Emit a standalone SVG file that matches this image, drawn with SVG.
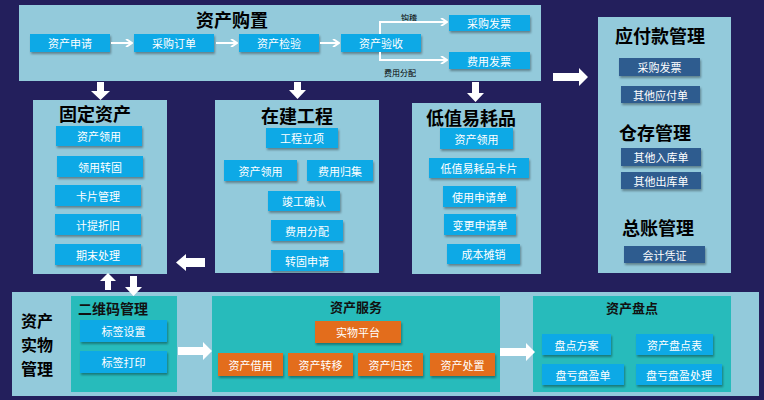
<svg xmlns="http://www.w3.org/2000/svg" width="764" height="400" viewBox="0 0 764 400">
<defs>
<style>
text{font-family:"Noto Sans CJK SC","Noto Sans",sans-serif;text-anchor:middle;dominant-baseline:central}
.panel{fill:#93cadb}
.sub{fill:#27bbbb}
.btn{fill:#0ba9e6;filter:url(#sh)}
.dk{fill:#2f5b8f;filter:url(#sh)}
.or{fill:#e36d1b;filter:url(#sh)}
.bt{fill:#fff;font-size:11px}
.t1{fill:#000;font-size:18px;font-weight:bold}
.t2{fill:#111;font-size:13px;font-weight:bold}
.sm{fill:#000;font-size:8px}
.fat{fill:#fff}
.ln{fill:none;stroke:#fff;stroke-width:2}
</style>
<filter id="sh" x="-10%" y="-10%" width="130%" height="150%">
<feDropShadow dx="1" dy="2" stdDeviation="1" flood-color="#000" flood-opacity="0.35"/>
</filter>
<marker id="ah" markerWidth="8" markerHeight="8" refX="7" refY="4" orient="auto" markerUnits="userSpaceOnUse">
<path d="M1,0 L7,4 L1,8" fill="none" stroke="#fff" stroke-width="2"/>
</marker>
</defs>
<rect width="764" height="400" fill="#231f5c"/>

<g id="purchase">
<rect class="panel" x="19" y="5" width="522" height="76"/>
<text class="t1" x="232" y="19">资产购置</text>
<rect class="btn" x="30" y="34" width="80" height="18"/><text class="bt" x="70" y="43">资产申请</text>
<rect class="btn" x="134" y="34" width="80" height="18"/><text class="bt" x="174" y="43">采购订单</text>
<rect class="btn" x="239" y="34" width="80" height="18"/><text class="bt" x="279" y="43">资产检验</text>
<rect class="btn" x="341" y="34" width="80" height="18"/><text class="bt" x="381" y="43">资产验收</text>
<rect class="btn" x="449" y="15" width="81" height="16"/><text class="bt" x="489" y="23">采购发票</text>
<rect class="btn" x="449" y="52" width="81" height="17"/><text class="bt" x="489" y="60.500">费用发票</text>
<text class="sm" x="409" y="17">钩稽</text>
<text class="sm" x="400" y="72">费用分配</text>
</g>

<g id="payable">
<rect class="panel" x="598" y="17" width="133" height="256"/>
<text class="t1" x="660" y="35">应付款管理</text>
<rect class="dk" x="619" y="58" width="81" height="18"/><text class="bt" x="659.500" y="67">采购发票</text>
<rect class="dk" x="621" y="86" width="79" height="17"/><text class="bt" x="660.500" y="94.500">其他应付单</text>
<text class="t1" x="655" y="132">仓存管理</text>
<rect class="dk" x="621" y="148" width="80" height="18"/><text class="bt" x="661" y="157">其他入库单</text>
<rect class="dk" x="621" y="172" width="80" height="17"/><text class="bt" x="661" y="180.500">其他出库单</text>
<text class="t1" x="658" y="227">总账管理</text>
<rect class="dk" x="624" y="246" width="81" height="17"/><text class="bt" x="664.500" y="254.500">会计凭证</text>
</g>

<g id="fixed">
<rect class="panel" x="33" y="100" width="134" height="174"/>
<text class="t1" x="95" y="113">固定资产</text>
<rect class="btn" x="56" y="126" width="86" height="20"/><text class="bt" x="99" y="136">资产领用</text>
<rect class="btn" x="57" y="156" width="86" height="21"/><text class="bt" x="100" y="166.500">领用转固</text>
<rect class="btn" x="55" y="185" width="86" height="21"/><text class="bt" x="98" y="195.500">卡片管理</text>
<rect class="btn" x="55" y="214" width="86" height="21"/><text class="bt" x="98" y="224.500">计提折旧</text>
<rect class="btn" x="55" y="244" width="86" height="21"/><text class="bt" x="98" y="254.500">期末处理</text>
</g>

<g id="construction">
<rect class="panel" x="215" y="100" width="164" height="173"/>
<text class="t1" x="297" y="115">在建工程</text>
<rect class="btn" x="266" y="128" width="72" height="20"/><text class="bt" x="302" y="138">工程立项</text>
<rect class="btn" x="224" y="160" width="73" height="21"/><text class="bt" x="260.500" y="170.500">资产领用</text>
<rect class="btn" x="307" y="160" width="66" height="21"/><text class="bt" x="340" y="170.500">费用归集</text>
<rect class="btn" x="268" y="191" width="72" height="20"/><text class="bt" x="304" y="201">竣工确认</text>
<rect class="btn" x="271" y="220" width="72" height="21"/><text class="bt" x="307" y="230.500">费用分配</text>
<rect class="btn" x="271" y="250" width="72" height="21"/><text class="bt" x="307" y="260.500">转固申请</text>
</g>

<g id="lowvalue">
<rect class="panel" x="412" y="103" width="129" height="171"/>
<text class="t1" x="471" y="117">低值易耗品</text>
<rect class="btn" x="440" y="128" width="73" height="21"/><text class="bt" x="476.500" y="138.500">资产领用</text>
<rect class="btn" x="429" y="158" width="100" height="20"/><text class="bt" x="479" y="168">低值易耗品卡片</text>
<rect class="btn" x="443" y="186" width="73" height="21"/><text class="bt" x="479.500" y="196.500">使用申请单</text>
<rect class="btn" x="444" y="214" width="72" height="21"/><text class="bt" x="480" y="224.500">变更申请单</text>
<rect class="btn" x="447" y="244" width="73" height="20"/><text class="bt" x="483.500" y="254">成本摊销</text>
</g>

<g id="physical">
<rect class="panel" x="12" y="292" width="747" height="104"/>
<text class="t1" x="37" y="320" style="font-size:16px">资产</text>
<text class="t1" x="37" y="344" style="font-size:16px">实物</text>
<text class="t1" x="37" y="368" style="font-size:16px">管理</text>
</g>

<g id="qrcode">
<rect class="sub" x="71" y="296" width="106" height="96"/>
<text class="t2" x="113" y="308" style="font-size:14px">二维码管理</text>
<rect class="btn" x="80" y="320" width="87" height="22"/><text class="bt" x="123.500" y="331">标签设置</text>
<rect class="btn" x="80" y="351" width="87" height="22"/><text class="bt" x="123.500" y="362">标签打印</text>
</g>

<g id="service">
<rect class="sub" x="212" y="296" width="288" height="96"/>
<text class="t2" x="356" y="306">资产服务</text>
<rect class="or" x="315" y="321" width="86" height="22"/><text class="bt" x="358" y="332">实物平台</text>
<rect class="or" x="218" y="353" width="65" height="23"/><text class="bt" x="250.500" y="364.500">资产借用</text>
<rect class="or" x="288" y="353" width="65" height="23"/><text class="bt" x="320.500" y="364.500">资产转移</text>
<rect class="or" x="358" y="353" width="65" height="23"/><text class="bt" x="390.500" y="364.500">资产归还</text>
<rect class="or" x="430" y="353" width="65" height="23"/><text class="bt" x="462.500" y="364.500">资产处置</text>
</g>

<g id="inventory">
<rect class="sub" x="533" y="296" width="198" height="96"/>
<text class="t2" x="632" y="307">资产盘点</text>
<rect class="btn" x="542" y="334" width="69" height="21"/><text class="bt" x="576.500" y="344.500">盘点方案</text>
<rect class="btn" x="636" y="334" width="77" height="21"/><text class="bt" x="674.500" y="344.500">资产盘点表</text>
<rect class="btn" x="542" y="364" width="82" height="21"/><text class="bt" x="583" y="374.500">盘亏盘盈单</text>
<rect class="btn" x="636" y="364" width="86" height="21"/><text class="bt" x="679" y="374.500">盘亏盘盈处理</text>
</g>

<g id="connectors">
<path class="ln" d="M111,43 H132" marker-end="url(#ah)"/>
<path class="ln" d="M216,43 H237" marker-end="url(#ah)"/>
<path class="ln" d="M320,43 H339" marker-end="url(#ah)"/>
<path class="ln" d="M380,34 V22 H447" marker-end="url(#ah)"/>
<path class="ln" d="M380,52 V60 H447" marker-end="url(#ah)"/>
<path class="fat" d="M97,82 H104 V91 H110 L100.500,100 L91,91 H97 Z"/>
<path class="fat" d="M294,82 H301 V90 H306 L297.500,99 L289,90 H294 Z"/>
<path class="fat" d="M472,82 H479 V93 H484 L475.500,102 L467,93 H472 Z"/>
<path class="fat" d="M553,73 H579 V68 L588,77 L579,86 V81 H553 Z"/>
<path class="fat" d="M205,258 H186 V254 L176,262.500 L186,271 V267 H205 Z"/>
<path class="fat" d="M105,290 V281 H100 L108,273 L116,281 H111 V290 Z"/>
<path class="fat" d="M130,276 H137 V287 H142 L133.500,296 L125,287 H130 Z"/>
<path class="fat" d="M178,347 H203 V342 L212,351 L203,360 V355 H178 Z"/>
<path class="fat" d="M500,348 H526 V343 L535,352 L526,361 V356 H500 Z"/>
</g>
</svg>
